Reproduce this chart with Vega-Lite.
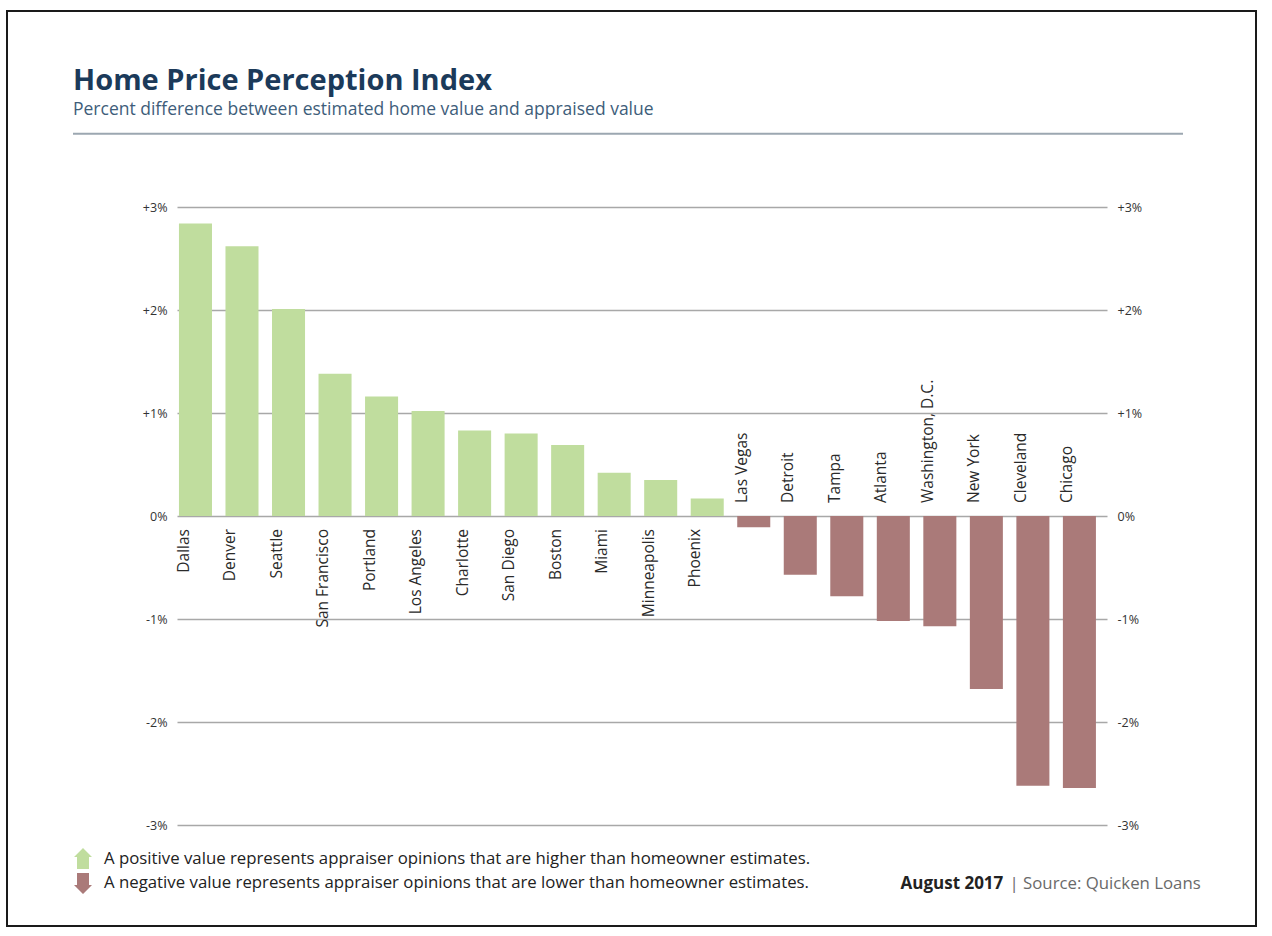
{
  "$schema": "https://vega.github.io/schema/vega-lite/v6.json",
  "width": 1249,
  "height": 915,
  "autosize": "none",
  "padding": {"left": 7, "top": 11, "right": 16, "bottom": 10},
  "background": "white",
  "config": {
    "view": {"stroke": "#1a1a1a", "strokeWidth": 2},
    "font": "Open Sans"
  },
  "title": {
    "text": "Home Price Perception Index",
    "subtitle": "Percent difference between estimated home value and appraised value",
    "anchor": "start",
    "frame": "group",
    "dx": 66,
    "offset": -107,
    "font": "Open Sans",
    "fontSize": 29,
    "fontWeight": "bold",
    "color": "#1b3a5a",
    "subtitleFont": "Open Sans",
    "subtitleFontSize": 17.5,
    "subtitleColor": "#3e5d7a",
    "subtitlePadding": 5
  },
  "data": {
    "values": [
      {"city": "Dallas", "value": 2.84, "direction": "positive"},
      {"city": "Denver", "value": 2.62, "direction": "positive"},
      {"city": "Seattle", "value": 2.01, "direction": "positive"},
      {"city": "San Francisco", "value": 1.38, "direction": "positive"},
      {"city": "Portland", "value": 1.16, "direction": "positive"},
      {"city": "Los Angeles", "value": 1.02, "direction": "positive"},
      {"city": "Charlotte", "value": 0.83, "direction": "positive"},
      {"city": "San Diego", "value": 0.80, "direction": "positive"},
      {"city": "Boston", "value": 0.69, "direction": "positive"},
      {"city": "Miami", "value": 0.42, "direction": "positive"},
      {"city": "Minneapolis", "value": 0.35, "direction": "positive"},
      {"city": "Phoenix", "value": 0.17, "direction": "positive"},
      {"city": "Las Vegas", "value": -0.11, "direction": "negative"},
      {"city": "Detroit", "value": -0.57, "direction": "negative"},
      {"city": "Tampa", "value": -0.78, "direction": "negative"},
      {"city": "Atlanta", "value": -1.02, "direction": "negative"},
      {"city": "Washington, D.C.", "value": -1.07, "direction": "negative"},
      {"city": "New York", "value": -1.68, "direction": "negative"},
      {"city": "Cleveland", "value": -2.62, "direction": "negative"},
      {"city": "Chicago", "value": -2.64, "direction": "negative"}
    ]
  },
  "resolve": {
    "scale": {"x": "independent"},
    "axis": {"x": "independent", "y": "independent"}
  },
  "layer": [
    {
      "mark": {"type": "bar"},
      "encoding": {
        "x": {
          "field": "city",
          "type": "nominal",
          "scale": {
            "domain": ["Dallas", "Denver", "Seattle", "San Francisco", "Portland", "Los Angeles", "Charlotte", "San Diego", "Boston", "Miami", "Minneapolis", "Phoenix", "Las Vegas", "Detroit", "Tampa", "Atlanta", "Washington, D.C.", "New York", "Cleveland", "Chicago"],
            "range": [170, 1100],
            "paddingInner": 0.29,
            "paddingOuter": 0.14,
            "align": 0.15
          },
          "axis": {
            "orient": "bottom",
            "labels": false,
            "ticks": false,
            "domain": false,
            "grid": false,
            "title": "August 2017",
            "titleX": 893,
            "titleY": -43,
            "titleAlign": "left",
            "titleBaseline": "middle",
            "titleAngle": 0,
            "titleFont": "Open Sans",
            "titleFontSize": 17,
            "titleFontWeight": "bold",
            "titleColor": "#222222"
          }
        },
        "y": {
          "field": "value",
          "type": "quantitative",
          "stack": null,
          "scale": {"domain": [-3, 3], "range": [814, 196], "nice": false, "zero": false},
          "axis": {
            "orient": "left",
            "offset": -170,
            "values": [-3, -2, -1, 0, 1, 2, 3],
            "labelExpr": "datum.value > 0 ? '+' + datum.value + '%' : datum.value + '%'",
            "ticks": false,
            "domain": false,
            "grid": true,
            "gridColor": "#a8a8a8",
            "gridWidth": 1.5,
            "labelPadding": 10,
            "labelFont": "Open Sans",
            "labelFontSize": 12.5,
            "labelColor": "#333333",
            "title": null
          }
        },
        "color": {
          "field": "direction",
          "type": "nominal",
          "scale": {"domain": ["positive", "negative"], "range": ["#c0dd9e", "#aa7a79"]},
          "legend": {
            "orient": "none",
            "legendX": 65,
            "legendY": 837,
            "direction": "vertical",
            "title": null,
            "padding": 0,
            "labelExpr": "datum.value === 'positive' ? 'A positive value represents appraiser opinions that are higher than homeowner estimates.' : 'A negative value represents appraiser opinions that are lower than homeowner estimates.'",
            "labelFont": "Open Sans",
            "labelFontSize": 16.8,
            "labelColor": "#222222",
            "labelLimit": 900,
            "labelOffset": 10,
            "symbolSize": 400,
            "rowPadding": 3,
            "encoding": {
              "symbols": {
                "shape": {
                  "condition": {"test": "datum.value === 'positive'", "value": "M0,-1.1L0.9,-0.2L0.6,-0.2L0.6,1L-0.6,1L-0.6,-0.2L-0.9,-0.2Z"},
                  "value": "M-0.6,-1L0.6,-1L0.6,0.2L0.9,0.2L0,1.1L-0.9,0.2L-0.6,0.2Z"
                }
              }
            }
          }
        }
      }
    },
    {
      "transform": [{"filter": "datum.value > 0"}],
      "mark": {"type": "text", "angle": 270, "align": "right", "baseline": "middle", "dx": -13, "font": "Open Sans", "fontSize": 15.5, "color": "#2a2a2a"},
      "encoding": {
        "x": {
          "field": "city",
          "type": "nominal",
          "scale": {
            "domain": ["Dallas", "Denver", "Seattle", "San Francisco", "Portland", "Los Angeles", "Charlotte", "San Diego", "Boston", "Miami", "Minneapolis", "Phoenix", "Las Vegas", "Detroit", "Tampa", "Atlanta", "Washington, D.C.", "New York", "Cleveland", "Chicago"],
            "range": [170, 1100],
            "paddingInner": 0.29,
            "paddingOuter": 0.14,
            "align": 0.15
          },
          "axis": null
        },
        "y": {"datum": 0, "type": "quantitative", "scale": {"domain": [-3, 3], "range": [814, 196], "nice": false, "zero": false}, "axis": null},
        "text": {"field": "city"}
      }
    },
    {
      "transform": [{"filter": "datum.value < 0"}],
      "mark": {"type": "text", "angle": 270, "align": "left", "baseline": "middle", "dx": 13, "font": "Open Sans", "fontSize": 15.5, "color": "#2a2a2a"},
      "encoding": {
        "x": {
          "field": "city",
          "type": "nominal",
          "scale": {
            "domain": ["Dallas", "Denver", "Seattle", "San Francisco", "Portland", "Los Angeles", "Charlotte", "San Diego", "Boston", "Miami", "Minneapolis", "Phoenix", "Las Vegas", "Detroit", "Tampa", "Atlanta", "Washington, D.C.", "New York", "Cleveland", "Chicago"],
            "range": [170, 1100],
            "paddingInner": 0.29,
            "paddingOuter": 0.14,
            "align": 0.15
          },
          "axis": {
            "orient": "top",
            "labels": false,
            "ticks": false,
            "domain": false,
            "grid": false,
            "title": "| Source: Quicken Loans",
            "titleX": 1002,
            "titleY": 872,
            "titleAlign": "left",
            "titleBaseline": "middle",
            "titleAngle": 0,
            "titleFont": "Open Sans",
            "titleFontSize": 16.8,
            "titleFontWeight": "normal",
            "titleColor": "#6a6a6a"
          }
        },
        "y": {
          "datum": 0,
          "type": "quantitative",
          "scale": {"domain": [-3, 3], "range": [814, 196], "nice": false, "zero": false},
          "axis": {
            "orient": "right",
            "offset": -149,
            "values": [-3, -2, -1, 0, 1, 2, 3],
            "labelExpr": "datum.value > 0 ? '+' + datum.value + '%' : datum.value + '%'",
            "ticks": false,
            "domain": false,
            "grid": false,
            "labelPadding": 10,
            "labelFont": "Open Sans",
            "labelFontSize": 12.5,
            "labelColor": "#333333",
            "title": null
          }
        },
        "text": {"field": "city"}
      }
    },
    {
      "data": {"values": [{"item": "separator"}]},
      "mark": {"type": "rule", "color": "#9ca7b1", "strokeWidth": 2},
      "encoding": {
        "x": {"datum": 0, "type": "quantitative", "scale": {"domain": [0, 1], "range": [66, 1176]}, "axis": null},
        "x2": {"datum": 1},
        "y": {"datum": 3.71, "type": "quantitative", "scale": {"domain": [-3, 3], "range": [814, 196], "nice": false, "zero": false}, "axis": null}
      }
    }
  ]
}
